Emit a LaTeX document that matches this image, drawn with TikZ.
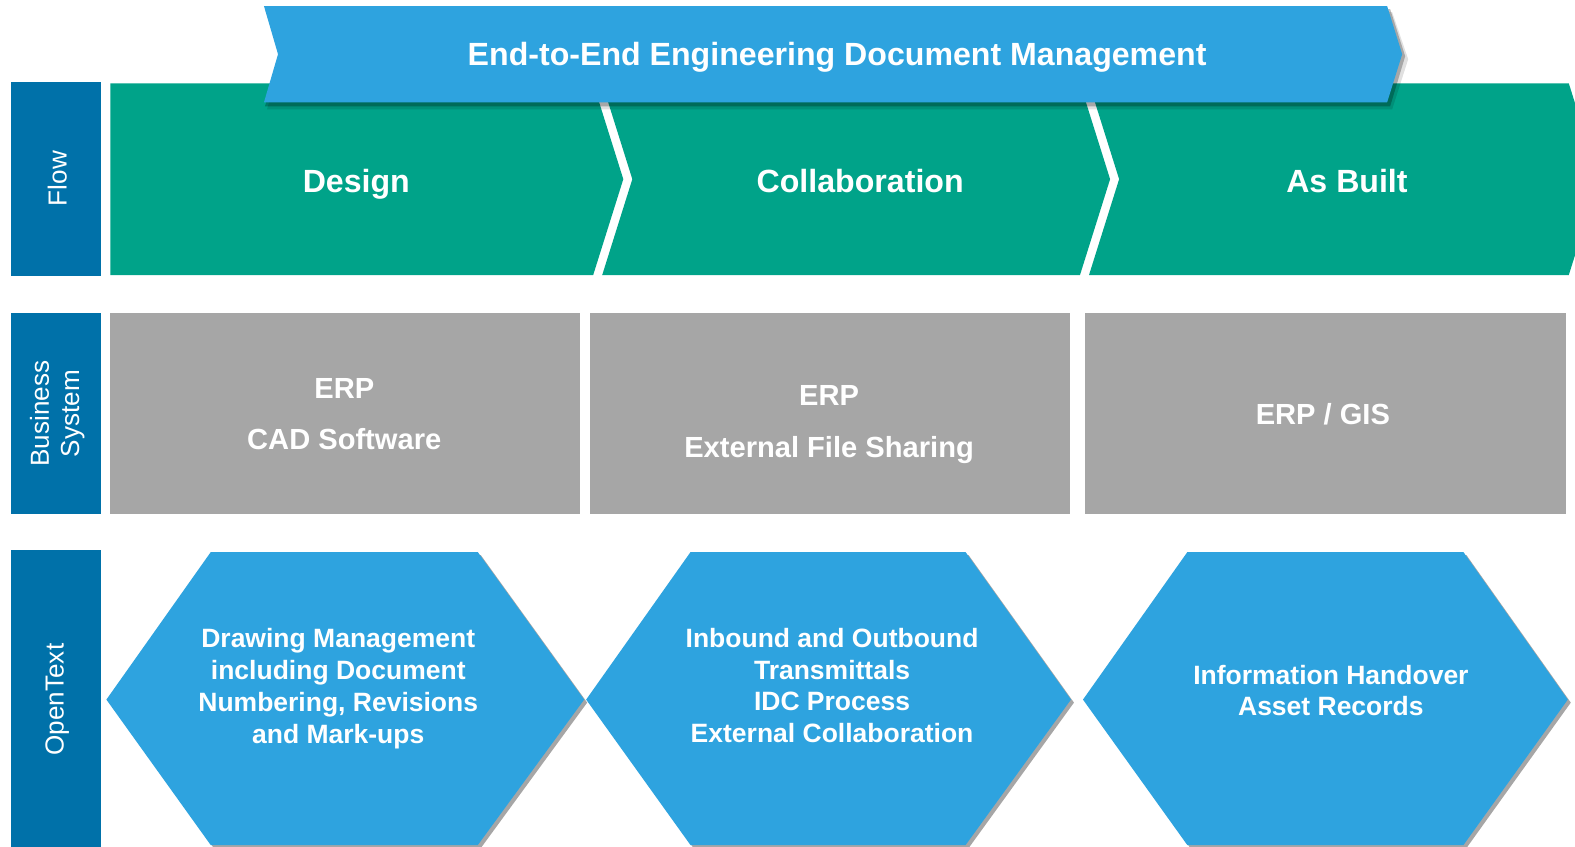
\documentclass[tikz,border=0pt]{standalone}
\usepackage{fontspec}
\setmainfont{Liberation Sans}
\definecolor{flowgreen}{HTML}{00A389}
\definecolor{hexblue}{HTML}{2EA3DF}
\definecolor{labelblue}{HTML}{0071A9}
\definecolor{sysgray}{HTML}{A6A6A6}
\tikzset{
  chev/.style={fill=flowgreen, draw=none},
  sysbox/.style={fill=sysgray, draw=none},
  hexshape/.style={fill=hexblue, draw=none},
  hexshadow/.style={fill=black, opacity=0.35, draw=none},
  lbl/.style={fill=labelblue, draw=none},
  lbltext/.style={text=white, rotate=90, align=center, font=\fontsize{13}{15}\selectfont},
  chevtext/.style={text=white, anchor=base, inner sep=0pt, font=\fontsize{16}{19}\selectfont\bfseries},
  systext/.style={text=white, anchor=base, inner sep=0pt, font=\fontsize{14.5}{17}\selectfont\bfseries},
  hextext/.style={text=white, align=center, font=\fontsize{13.2}{15.9}\selectfont\bfseries},
}
\begin{document}
\begin{tikzpicture}[x=0.5pt,y=-0.5pt]
\useasboundingbox (0,0) rectangle (1569.2,842.9);
\clip (0,0) rectangle (1575,846);
\fill[white] (0,0) rectangle (1575,846);

% left labels
\fill[lbl] (11,82) rectangle (101,275);
\fill[lbl] (11,312) rectangle (101,512);
\fill[lbl] (11,548) rectangle (101,846);
\node[lbltext] (lflow) at (57,178) {Flow};
\node[lbltext] (lbus) at (57,412) {Business\\System};
\node[lbltext] (lot) at (57,697) {OpenText};

% flow chevrons
\fill[chev] (110,83) -- (591,83) -- (621,178.5) -- (591,274) -- (110,274) -- cycle;
\fill[chev] (600,83) -- (1076,83) -- (1106,178.5) -- (1076,274) -- (600,274) -- (630,178.5) -- cycle;
\fill[chev] (1085,83) -- (1563,83) -- (1593,178.5) -- (1563,274) -- (1085,274) -- (1115,178.5) -- cycle;
\node[chevtext] (design) at (355,192) {Design};
\node[chevtext] (collab) at (857,192) {Collaboration};
\node[chevtext] (asbuilt) at (1342,192) {As Built};

% banner shadow + banner
\fill[black, opacity=0.12] (266,12) -- (1387,12) -- (1403,59) -- (1387,109) -- (266,109) -- (281,59) -- cycle;
\fill[black, opacity=0.25] (264,9) -- (1385,9) -- (1400,56) -- (1385,106) -- (264,106) -- (279,56) -- cycle;
\fill[hexblue] (263,6) -- (1382,6) -- (1397,54) -- (1382,102) -- (263,102) -- (277,54) -- cycle;
\node[chevtext] (banner) at (834,65) {End-to-End Engineering Document Management};

% business system boxes
\fill[sysbox] (110,312) rectangle (578,512);
\fill[sysbox] (588,312) rectangle (1066,512);
\fill[sysbox] (1081,312) rectangle (1560,512);
\node[systext] (sys1a) at (343,397) {ERP};
\node[systext] (sys1b) at (343,448) {CAD Software};
\node[systext] (sys2a) at (826,404) {ERP};
\node[systext] (sys2b) at (826,456) {External File Sharing};
\node[systext] (sys3) at (1318,423) {ERP / GIS};

% hexagons
\foreach \l/\a/\b/\r in {106/210/476/582, 584/688/962/1067, 1079/1183/1458/1562}{
  \fill[hexshadow] (\l+3,700) -- (\a+3,553) -- (\b+3,553) -- (\r+3,700) -- (\b+3,845) -- (\a+3,845) -- cycle;
  \fill[hexshape] (\l,697) -- (\a,550) -- (\b,550) -- (\r,697) -- (\b,842) -- (\a,842) -- cycle;
}
\node[hextext] (hex1) at (337,686) {Drawing Management\\including Document\\Numbering, Revisions\\and Mark-ups};
\node[hextext] (hex2) at (829,683) {Inbound and Outbound\\Transmittals\\IDC Process\\External Collaboration};
\node[hextext] (hex3) at (1326,688) {Information Handover\\Asset Records};
\end{tikzpicture}
\end{document}
